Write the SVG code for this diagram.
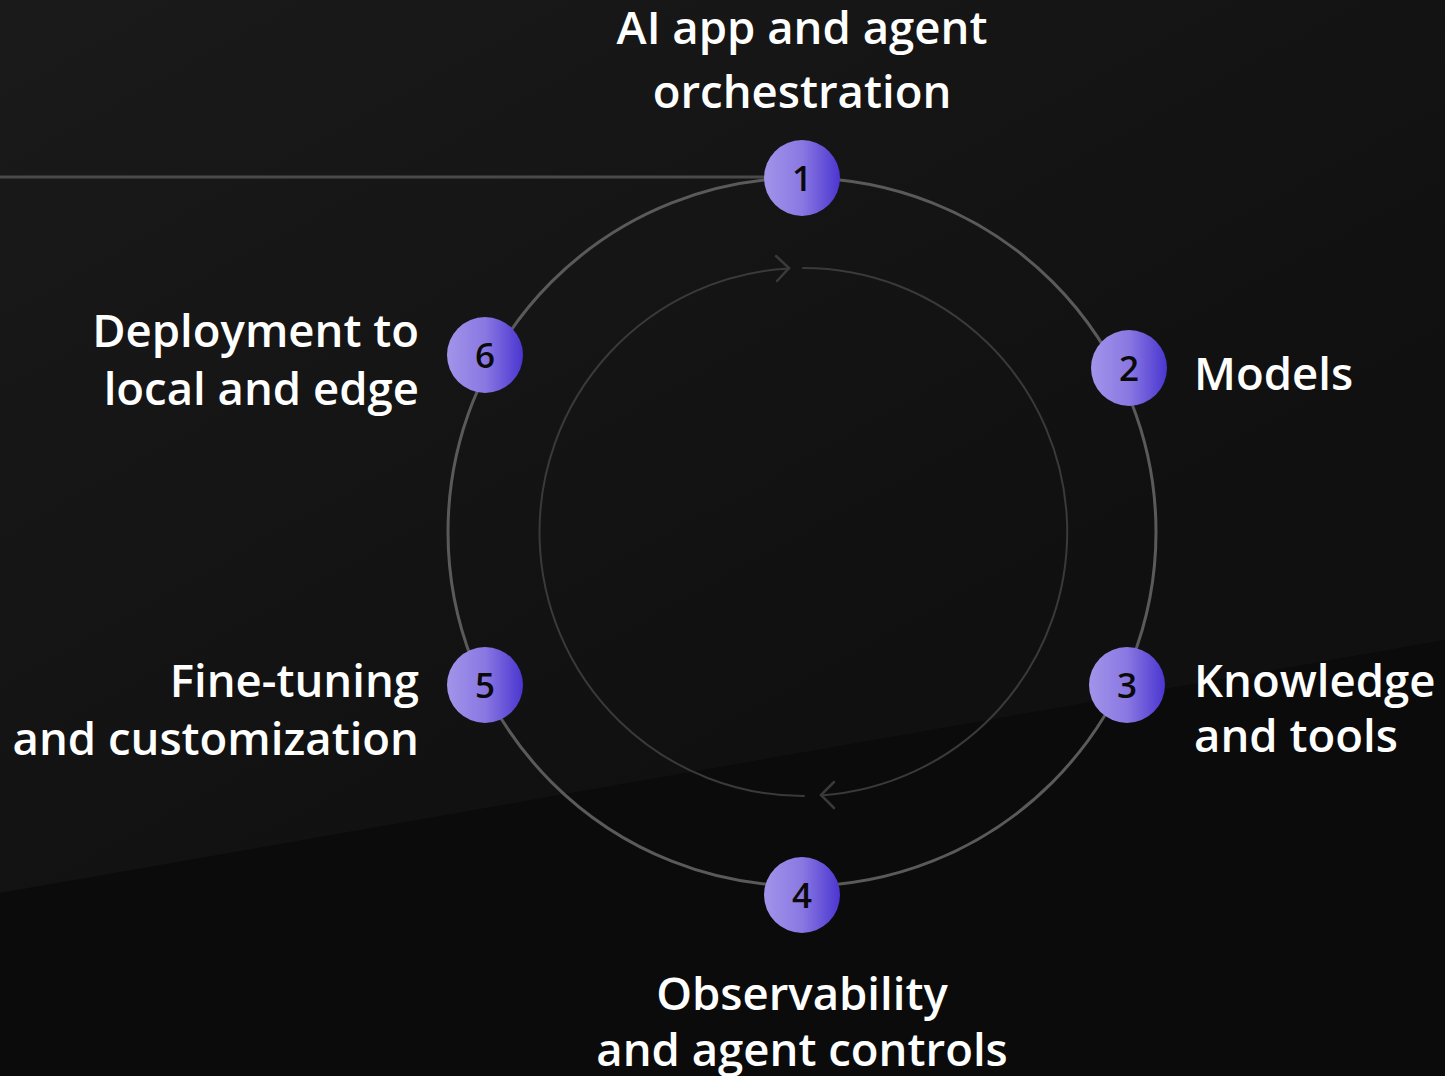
<svg xmlns="http://www.w3.org/2000/svg" width="1445" height="1076" viewBox="0 0 1445 1076">
<style>
.lbl{font-family:"Open Sans","Noto Sans","Liberation Sans",sans-serif;font-weight:600;font-size:45.5px;fill:#ffffff}
.num{font-family:"Open Sans","Noto Sans","Liberation Sans",sans-serif;font-weight:600;font-size:35px;fill:#0a0a0a;text-anchor:middle}
.node{fill:url(#ng)}
.mid{text-anchor:middle}
.end{text-anchor:end}
</style>
<defs>
<linearGradient id="bg" gradientUnits="userSpaceOnUse" x1="0" y1="0" x2="500" y2="900">
<stop offset="0" stop-color="#1a1a1a"/>
<stop offset="1" stop-color="#101010"/>
</linearGradient>
<linearGradient id="ng" x1="0" y1="0" x2="1" y2="0">
<stop offset="0" stop-color="#a294ea"/>
<stop offset="0.5" stop-color="#8a78e2"/>
<stop offset="1" stop-color="#4a36d0"/>
</linearGradient>
</defs>
<rect width="1445" height="1076" fill="url(#bg)"/>
<polygon points="0,893 1445,640 1445,1076 0,1076" fill="#0b0b0b"/>
<g id="connectors" fill="none" stroke-linecap="round">
<line x1="0" y1="177" x2="790" y2="177" stroke="#4a4a4a" stroke-width="3"/>
<circle cx="802" cy="532" r="354" stroke="#5a5a5a" stroke-width="3"/>
<path d="M803 268 A264 264 0 0 1 821 795.4" stroke="#3a3a3a" stroke-width="2"/>
<path d="M804 796 A264 264 0 0 1 789 268.4" stroke="#3a3a3a" stroke-width="2"/>
<polyline points="776,256 789,268 777,281" stroke="#3a3a3a" stroke-width="2.5"/>
<polyline points="834,782 821,795 834,808" stroke="#3a3a3a" stroke-width="2.5"/>
</g>
<g id="node1"><circle class="node" cx="802" cy="178" r="38"/><text class="num" x="802" y="191">1</text>
<text class="lbl mid" x="802" y="44">AI app and agent</text><text class="lbl mid" x="802" y="108">orchestration</text></g>
<g id="node2"><circle class="node" cx="1129" cy="368" r="38"/><text class="num" x="1129" y="381">2</text>
<text class="lbl" x="1194" y="390">Models</text></g>
<g id="node3"><circle class="node" cx="1127" cy="685" r="38"/><text class="num" x="1127" y="698">3</text>
<text class="lbl" x="1194" y="697">Knowledge</text><text class="lbl" x="1194" y="752">and tools</text></g>
<g id="node4"><circle class="node" cx="802" cy="895" r="38"/><text class="num" x="802" y="908">4</text>
<text class="lbl mid" x="802" y="1010">Observability</text><text class="lbl mid" x="802" y="1066">and agent controls</text></g>
<g id="node5"><circle class="node" cx="485" cy="685" r="38"/><text class="num" x="485" y="698">5</text>
<text class="lbl end" x="419" y="697">Fine-tuning</text><text class="lbl end" x="419" y="755">and customization</text></g>
<g id="node6"><circle class="node" cx="485" cy="355" r="38"/><text class="num" x="485" y="368">6</text>
<text class="lbl end" x="419" y="347">Deployment to</text><text class="lbl end" x="419" y="405">local and edge</text></g>
</svg>
